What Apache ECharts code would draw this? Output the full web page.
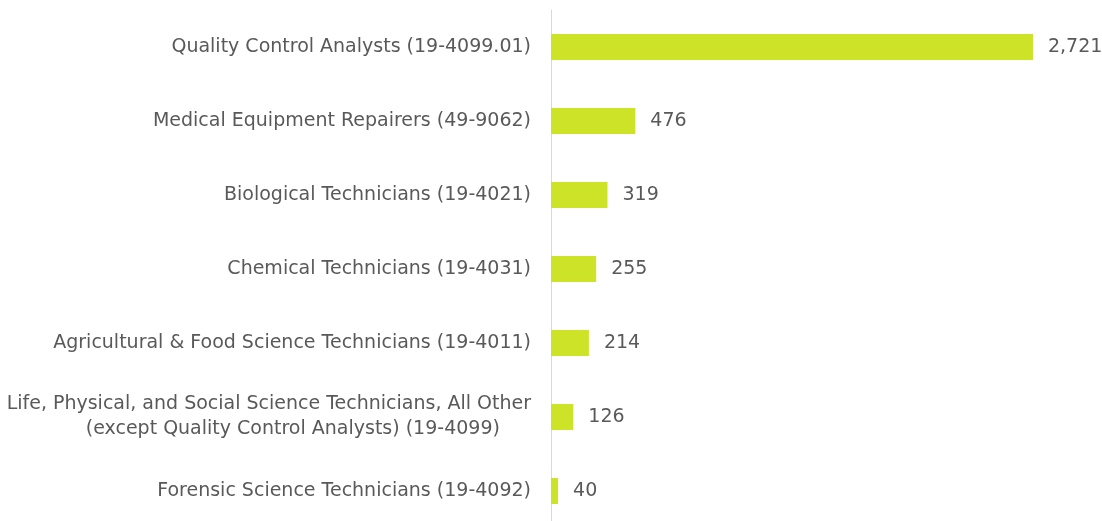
<!DOCTYPE html>
<html>
<head>
<meta charset="utf-8">
<script src="https://cdn.jsdelivr.net/npm/echarts@6/dist/echarts.min.js"></script>
<style>
  html, body { margin: 0; padding: 0; background: #fff; }
  #chart { width: 1102px; height: 521px; }
</style>
</head>
<body>
<div id="chart"></div>
<script>
// categories, top to bottom
var categories = [
    'Quality Control Analysts (19-4099.01)',
    'Medical Equipment Repairers (49-9062)',
    'Biological Technicians (19-4021)',
    'Chemical Technicians (19-4031)',
    'Agricultural & Food Science Technicians (19-4011)',
    'Life, Physical, and Social Science Technicians, All Other\n(except Quality Control Analysts) (19-4099)',
    'Forensic Science Technicians (19-4092)'
];
var values = [2721, 476, 319, 255, 214, 126, 40];

var chart = echarts.init(document.getElementById('chart'));

var option = {
    animation: false,
    grid: {
        left: 551,
        right: 19.6,
        top: 10,
        height: 518,
        outerBoundsMode: 'none'
    },
    xAxis: {
        type: 'value',
        min: 0,
        max: 3000,
        show: false
    },
    yAxis: {
        type: 'category',
        inverse: true,
        data: categories,
        axisLine: { show: true, lineStyle: { color: '#d9d9d9', width: 1 } },
        axisTick: { show: false },
        axisLabel: {
            color: '#595959',
            fontFamily: 'DejaVu Sans',
            fontSize: 19,
            margin: 20,
            lineHeight: 25,
            formatter: function (v) {
                // two-line label: first line right, second line roughly centred
                var parts = v.split('\n');
                if (parts.length > 1) {
                    return '{a|' + parts[0] + '}\n{b|' + parts[1] + '}';
                }
                return v;
            },
            rich: {
                a: {
                    align: 'right',
                    color: '#595959',
                    fontFamily: 'DejaVu Sans',
                    fontSize: 19,
                    lineHeight: 25
                },
                b: {
                    align: 'center',
                    color: '#595959',
                    fontFamily: 'DejaVu Sans',
                    fontSize: 19,
                    lineHeight: 25,
                    padding: [0, 0, 0, 48]
                }
            }
        }
    },
    series: [{
        type: 'bar',
        data: values,
        barWidth: 26,
        itemStyle: { color: '#cde328' },
        label: {
            show: true,
            position: 'right',
            distance: 15,
            color: '#595959',
            fontFamily: 'DejaVu Sans',
            fontSize: 19,
            formatter: function (p) {
                return p.value.toLocaleString('en-US');
            }
        }
    }]
};

chart.setOption(option);
</script>
</body>
</html>
